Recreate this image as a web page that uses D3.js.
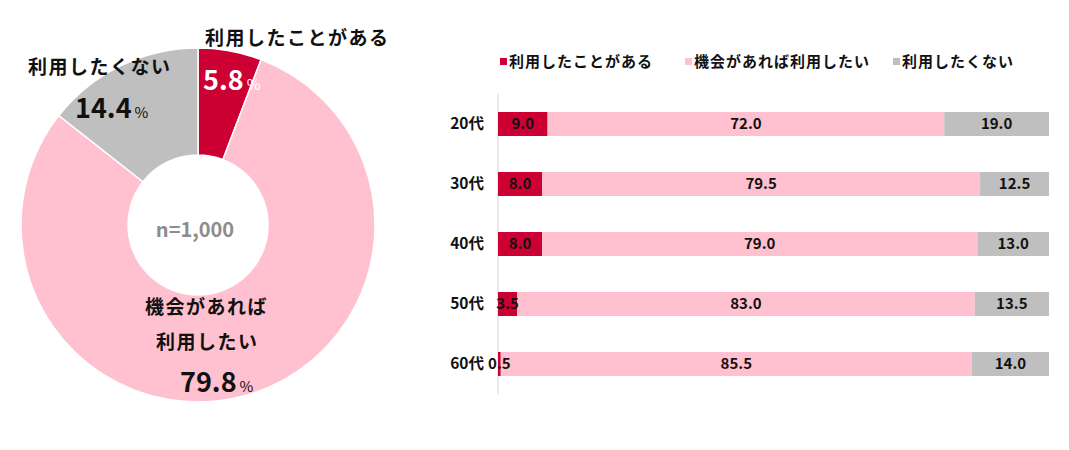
<!DOCTYPE html>
<html><head><meta charset="utf-8">
<script src="https://cdn.jsdelivr.net/npm/d3@7"></script>
<style>
html,body{margin:0;padding:0;background:#fff;}
text{font-family:"Noto Sans CJK JP","Noto Sans",sans-serif;}
</style></head>
<body><svg id="c" width="1069" height="450"></svg>
<script>
// ---- data ----
const donutLabels = ["利用したことがある", "機会があれば利用したい", "利用したくない"];
const donutValues = [5.8, 79.8, 14.4];
const sampleLabel = "n=1,000";

const ageGroups = ["20代", "30代", "40代", "50代", "60代"];
const usedValues = [9.0, 8.0, 8.0, 3.5, 0.5];
const wantValues = [72.0, 79.5, 79.0, 83.0, 85.5];
const notValues  = [19.0, 12.5, 13.0, 13.5, 14.0];
const seriesNames = ["利用したことがある", "機会があれば利用したい", "利用したくない"];
const colors = ["#cc0033", "#ffc0cf", "#bfbfbf"];

const svg = d3.select("#c");

// ---- donut ----
const cx = 198, cy = 225, R = 177, r = 70;
const pie = d3.pie().sort(null).value(d => d)(donutValues);
const arc = d3.arc().innerRadius(r).outerRadius(R);
const g = svg.append("g").attr("transform", `translate(${cx},${cy})`);
g.selectAll("path").data(pie).join("path")
  .attr("d", arc).attr("fill", (d, i) => colors[i])
  .attr("stroke", "#fff").attr("stroke-width", 1.5);

g.append("text").attr("x", -3).attr("y", 12).attr("text-anchor", "middle")
  .attr("font-size", 20).attr("font-weight", "bold").attr("fill", "#8c8c8c").text(sampleLabel);

function label(x, y, txt) {
  return g.append("text").attr("x", x).attr("y", y).attr("font-size", 19)
    .attr("font-weight", "bold").attr("letter-spacing", "1.5px").attr("fill", "#111").text(txt);
}
function pct(x, y, v, fill) {
  const t = g.append("text").attr("x", x).attr("y", y).attr("fill", fill);
  t.append("tspan").attr("font-size", 27).attr("font-weight", "bold").text(v.toFixed(1));
  t.append("tspan").attr("font-size", 15).attr("dx", 3).text("%");
}
label(7, -180, donutLabels[0]);
pct(5, -135, donutValues[0], "#fff");
label(-170, -151, donutLabels[2]);
pct(-123, -107, donutValues[2], "#111");
label(-53, 89, "機会があれば");
label(-42, 124, "利用したい");
pct(-18, 167, donutValues[1], "#111");

// ---- stacked bars ----
const x = d3.scaleLinear().domain([0, 100]).range([498, 1049]);
const y = d3.scaleBand().domain(ageGroups).range([94, 394]).paddingInner(0.6).paddingOuter(0.3);
const stackData = ageGroups.map((a, i) => ({ age: a, used: usedValues[i], want: wantValues[i], not: notValues[i] }));
const stack = d3.stack().keys(["used", "want", "not"])(stackData);

svg.append("line").attr("x1", x(0)).attr("x2", x(0)).attr("y1", 94).attr("y2", 394)
  .attr("stroke", "#e3e3e3").attr("stroke-width", 1.5);

const rectG = svg.append("g"), textG = svg.append("g");
stack.forEach((layer, k) => {
  rectG.append("g").selectAll("rect").data(layer).join("rect")
    .attr("x", d => x(d[0])).attr("width", d => x(d[1]) - x(d[0]))
    .attr("y", d => y(d.data.age)).attr("height", y.bandwidth())
    .attr("fill", colors[k]);
  textG.append("g").selectAll("text").data(layer).join("text")
    .attr("x", d => (x(d[0]) + x(d[1])) / 2)
    .attr("y", d => y(d.data.age) + y.bandwidth() / 2)
    .attr("dy", "0.36em").attr("text-anchor", "middle")
    .attr("font-size", 15).attr("font-weight", "bold").attr("fill", "#111")
    .text(d => (d[1] - d[0]).toFixed(1));
});

const yAxis = d3.axisLeft(y).tickSize(0).tickPadding(14);
const ya = svg.append("g").attr("transform", `translate(${x(0)},0)`).call(yAxis);
ya.select(".domain").remove();
ya.selectAll("text").attr("font-size", 15.5).attr("font-weight", "bold").attr("fill", "#111")
  .attr("font-family", "\"Noto Sans CJK JP\",sans-serif");

// legend
const legX = [500, 685, 893];
seriesNames.forEach((n, i) => {
  svg.append("rect").attr("x", legX[i]).attr("y", 58).attr("width", 7).attr("height", 7).attr("fill", colors[i]);
  svg.append("text").attr("x", legX[i] + 9).attr("y", 66.5).attr("font-size", 15)
    .attr("font-weight", "bold").attr("letter-spacing", "1px").attr("fill", "#111").text(n);
});
</script></body></html>
